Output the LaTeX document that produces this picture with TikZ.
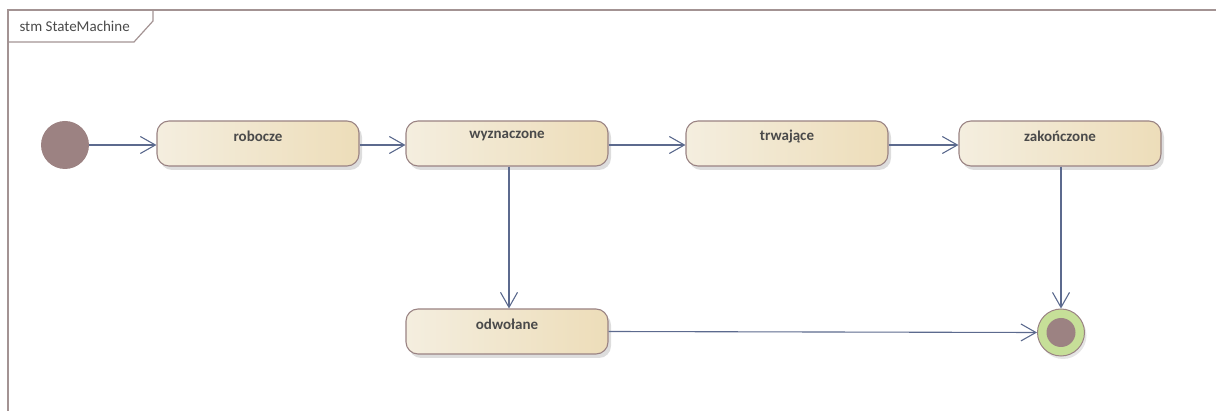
\documentclass[tikz,border=0pt]{standalone}
\usepackage{fontspec}
\setmainfont{Carlito}
\usetikzlibrary{arrows.meta,shadows}
\definecolor{frameline}{HTML}{A39393}
\definecolor{stateborder}{HTML}{9A8383}
\definecolor{stateleft}{HTML}{F4EEDF}
\definecolor{stateright}{HTML}{EDDDB9}
\definecolor{pseudo}{HTML}{9C8282}
\definecolor{finalring}{HTML}{C6DF98}
\definecolor{flow}{HTML}{5C6A8E}
\definecolor{labeltext}{HTML}{4A4A4A}
\tikzset{
  x=1pt, y=-1pt,
  statebox/.style={draw=stateborder, line width=1.1pt, rounded corners=12pt,
    left color=stateleft, right color=stateright,
    minimum width=202pt, minimum height=45pt, inner sep=0pt,
    drop shadow={shadow xshift=3pt, shadow yshift=-4pt, fill=black!22, opacity=0.6}},
  statelabel/.style={font=\bfseries\fontsize{15}{17}\selectfont, text=labeltext},
  initial/.style={circle, fill=pseudo, draw=none, minimum size=48pt, inner sep=0pt},
  finalouter/.style={circle, fill=finalring, draw=stateborder, line width=1pt,
    minimum size=47pt, inner sep=0pt,
    drop shadow={shadow xshift=2pt, shadow yshift=-3pt, fill=black!20, opacity=0.5}},
  finalinner/.style={circle, fill=pseudo, minimum size=29pt, inner sep=0pt},
  transition/.style={draw=flow, line width=1.1pt,
    -{Straight Barb[length=15pt, width=17pt, line width=1.1pt]}},
}
\begin{document}
\begin{tikzpicture}
  \useasboundingbox (0,0) rectangle (1216,411);
  % diagram frame with its name tab
  \draw[frameline, line width=2pt] (8,411) -- (8,10) -- (1216,10);
  \draw[frameline, line width=1.2pt] (8,42) -- (134,42) -- (153,21) -- (153,10);
  \node[anchor=west, font=\fontsize{15}{17}\selectfont, text=labeltext] (frametitle) at (16,26) {stm StateMachine};

  % pseudostates
  \node[initial] (init) at (65,145) {};
  \node[finalouter] (final) at (1061,332.5) {};
  \node[finalinner] (finaldot) at (final.center) {};

  % states
  \node[statebox] (robocze) at (258,143.5) {};
  \node[statebox] (wyznaczone) at (507,143.5) {};
  \node[statebox] (trwajace) at (787,143.5) {};
  \node[statebox] (zakonczone) at (1060,143.5) {};
  \node[statebox] (odwolane) at (507,331.5) {};

  \node[statelabel] (l1) at ([yshift=-16pt]robocze.north) {robocze};
  \node[statelabel] (l2) at ([yshift=-16pt]wyznaczone.north) {wyznaczone};
  \node[statelabel] (l3) at ([yshift=-16pt]trwajace.north) {trwające};
  \node[statelabel] (l4) at ([yshift=-16pt]zakonczone.north) {zakończone};
  \node[statelabel] (l5) at ([yshift=-16pt]odwolane.north) {odwołane};

  % transitions
  \draw[transition] (init.east) -- (robocze.west |- init.east);
  \draw[transition] (robocze.east |- init.east) -- (wyznaczone.west |- init.east);
  \draw[transition] (wyznaczone.east |- init.east) -- (trwajace.west |- init.east);
  \draw[transition] (trwajace.east |- init.east) -- (zakonczone.west |- init.east);
  \draw[transition] ([xshift=2pt]wyznaczone.south) -- ([xshift=2pt]odwolane.north);
  \draw[transition] (final.north |- zakonczone.south) -- (final.north);
  \draw[transition] (odwolane.east) -- (final.west);
\end{tikzpicture}
\end{document}
